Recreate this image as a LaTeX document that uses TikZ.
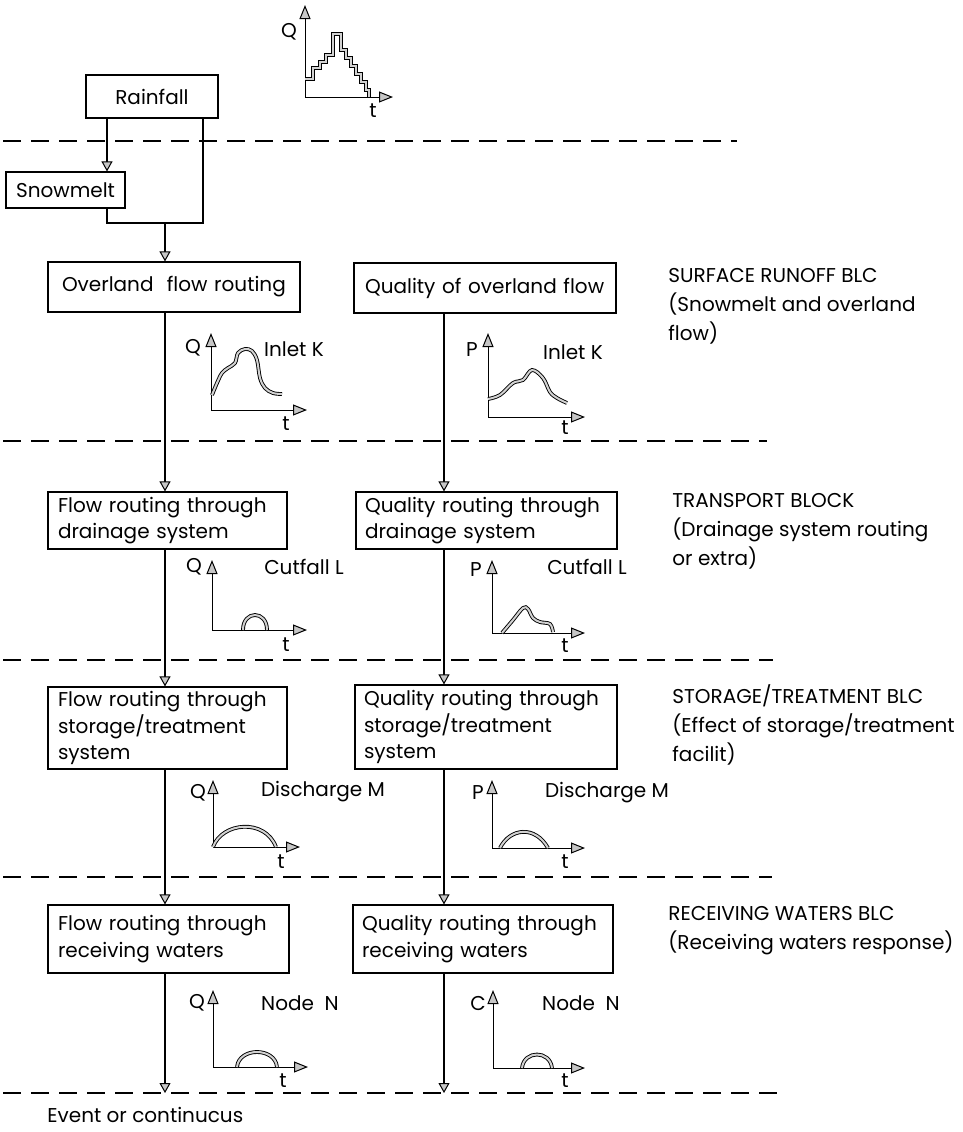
\documentclass[tikz,border=0pt]{standalone}
\usepackage{fontspec}
\setmainfont{Poppins}
\usetikzlibrary{arrows.meta}
\begin{document}
\begin{tikzpicture}[x=0.5pt,y=-0.5pt,
  font=\fontsize{10}{13.2}\selectfont,
  box/.style={draw, line width=0.6pt, inner ysep=0pt, align=left},
  cbox/.style={draw, line width=0.6pt, inner sep=0pt, align=center},
  flow/.style={line width=1.3pt},
  arr/.style={-{Triangle[length=5pt,width=5.5pt,fill=gray!45,line width=0.5pt]}},
  axis/.style={line width=0.5pt},
  axarr/.style={-{Triangle[length=7pt,width=5.5pt,fill=gray!45,line width=0.5pt]}},
  curve/.style={draw=black, double=gray!35, double distance=1pt, line width=0.45pt},
  sep/.style={dash pattern=on 9pt off 5pt, line width=0.8pt},
  lab/.style={inner sep=0pt},
  side/.style={inner sep=0pt, anchor=west, align=left, font=\fontsize{10}{14.5}\selectfont}
]
\useasboundingbox (0,0) rectangle (963,1132);

% separators
\draw[sep] (3,141) -- (737,141);
\draw[sep] (3,441) -- (767,441);
\draw[sep] (3,660) -- (773,660);
\draw[sep] (3,877) -- (772,877);
\draw[sep] (3,1093) -- (785,1093);

% boxes
\node[cbox, minimum width=66pt, minimum height=21.5pt] (rain) at (152,96.5) {Rainfall};
\node[cbox, minimum width=59.5pt, minimum height=18pt] (snow) at (65.5,190) {Snowmelt};
\node[box, inner xsep=7pt, text width=112pt, minimum height=25pt] (over) at (174,287) {\mbox{Overland\ \ flow routing}};
\node[box, inner xsep=5.5pt, text width=120pt, minimum height=25pt] (qover) at (485,288) {\mbox{Quality of overland flow}};
\node[box, inner xsep=5pt, text width=109.5pt, minimum height=28.5pt] (fdr) at (167.5,520.5) {\mbox{Flow routing through}\\\mbox{drainage system}};
\node[box, inner xsep=4.5pt, text width=121.5pt, minimum height=28.5pt] (qdr) at (486.5,520.5) {\mbox{Quality routing through}\\\mbox{drainage system}};
\node[box, inner xsep=5pt, text width=109.5pt, minimum height=41pt] (fst) at (167.5,728) {\mbox{Flow routing through}\\\mbox{storage/treatment}\\\mbox{system}};
\node[box, inner xsep=4.5pt, text width=122pt, minimum height=42pt] (qst) at (486,727) {\mbox{Quality routing through}\\\mbox{storage/treatment}\\\mbox{system}};
\node[box, inner xsep=5pt, text width=110.5pt, minimum height=34pt] (frw) at (168.5,939) {\mbox{Flow routing through}\\\mbox{receiving waters}};
\node[box, inner xsep=4.5pt, text width=121pt, minimum height=34pt] (qrw) at (483,939) {\mbox{Quality routing through}\\\mbox{receiving waters}};

% connector helpers
\coordinate (c1) at (107,0);
\coordinate (c2) at (203,0);
\coordinate (j) at (165,223);
\coordinate (L) at (165,0);
\coordinate (R) at (444,0);
\coordinate (endL) at (165,1093);
\coordinate (endR) at (444,1093);

\draw[flow,arr] (rain.south -| c1) -- (snow.north -| c1);
\draw[flow] (rain.south -| c2) |- (j);
\draw[flow] (snow.south -| c1) |- (j);
\draw[flow,arr] (j) -- (over.north -| j);

\draw[flow,arr] (over.south -| L) -- (fdr.north -| L);
\draw[flow,arr] (fdr.south -| L) -- (fst.north -| L);
\draw[flow,arr] (fst.south -| L) -- (frw.north -| L);
\draw[flow,arr] (frw.south -| L) -- (endL);

\draw[flow,arr] (qover.south -| R) -- (qdr.north -| R);
\draw[flow,arr] (qdr.south -| R) -- (qst.north -| R);
\draw[flow,arr] (qst.south -| R) -- (qrw.north -| R);
\draw[flow,arr] (qrw.south -| R) -- (endR);

% side labels
\node[side] (s1) at (668,306) {SURFACE RUNOFF BLC\\(Snowmelt and overland\\flow)};
\node[side] (s2) at (672,531.5) {TRANSPORT BLOCK\\(Drainage system routing\\or extra)};
\node[side] (s3) at (672,724.5) {STORAGE/TREATMENT BLC\\(Effect of storage/treatment\\facilit)};
\node[side] (s4) at (668,931) {RECEIVING WATERS BLC\\(Receiving waters response)};
\node[side] (ev) at (47,1115) {Event or continucus};

% top chart
\draw[axis,axarr] (305,97) -- (305,5);
\draw[axis,axarr] (305,97) -- (393,97);
\node[lab] (q0) at (289,32) {Q};
\node[lab] (t0) at (373,111) {t};
\draw[curve] (305,79) -- (313,79) -- (313,68) -- (320,68) -- (320,62) -- (326,62) -- (326,55) -- (333,55) -- (333,34) -- (341,34) -- (341,50) -- (346,50) -- (346,58) -- (351,58) -- (351,66) -- (356,66) -- (356,74) -- (361,74) -- (361,82) -- (366,82) -- (366,90) -- (369,90) -- (369,97);

% row 1 left
\draw[axis,axarr] (211,410) -- (211,333);
\draw[axis,axarr] (211,410) -- (307,410);
\node[lab] (q1) at (193,348) {Q};
\node[lab] (t1) at (286,424) {t};
\node[lab] (k1) at (294,349) {Inlet K};
\draw[curve] plot[smooth,tension=0.6] coordinates {(212,395) (217,383) (222,373) (228,368) (235,363) (238,353) (245,349) (252,351) (257,360) (260,378) (265,388) (273,393) (282,394)};

% row 1 right
\draw[axis,axarr] (488,417) -- (488,333);
\draw[axis,axarr] (488,417) -- (585,417);
\node[lab] (p1) at (472,350) {P};
\node[lab] (t2) at (565,428) {t};
\node[lab] (k2) at (573,352) {Inlet K};
\draw[curve] plot[smooth,tension=0.6] coordinates {(488,399) (500,395) (513,383) (523,380) (532,370) (543,378) (550,392) (557,398) (567,403)};

% row 2 left
\draw[axis,axarr] (212,630) -- (212,560);
\draw[axis,axarr] (212,630) -- (307,630);
\node[lab] (q2) at (194,567) {Q};
\node[lab] (t3) at (286,645) {t};
\node[lab] (o1) at (304,567) {Cutfall L};
\draw[curve] (243,630) .. controls (243,610) and (267,610) .. (267,630);

% row 2 right
\draw[axis,axarr] (492,633) -- (492,560);
\draw[axis,axarr] (492,633) -- (585,633);
\node[lab] (p2) at (476,570) {P};
\node[lab] (t4) at (565,646) {t};
\node[lab] (o2) at (587,567) {Cutfall L};
\draw[curve] plot[smooth,tension=0.6] coordinates {(502,633) (513,620) (523,608) (528,609) (533,618) (540,622) (550,624) (553,632)};

% row 3 left
\draw[axis,axarr] (213,847) -- (213,780);
\draw[axis,axarr] (213,847) -- (300,847);
\node[lab] (q3) at (198,793) {Q};
\node[lab] (t5) at (281,862) {t};
\node[lab] (d1) at (323,792) {Discharge M};
\draw[curve] (213,847) .. controls (222,822) and (265,818) .. (276,847);

% row 3 right
\draw[axis,axarr] (492,848) -- (492,780);
\draw[axis,axarr] (492,848) -- (585,848);
\node[lab] (p3) at (478,793) {P};
\node[lab] (t6) at (565,862) {t};
\node[lab] (d2) at (607,793) {Discharge M};
\draw[curve] (500,848) .. controls (510,828) and (535,825) .. (548,848);

% row 4 left
\draw[axis,axarr] (213,1067) -- (213,990);
\draw[axis,axarr] (213,1067) -- (308,1067);
\node[lab] (q4) at (197,1003) {Q};
\node[lab] (t7) at (283,1081) {t};
\node[lab] (n1) at (300,1003) {Node\ \ N};
\draw[curve] (237,1067) .. controls (239,1047) and (275,1047) .. (277,1067);

% row 4 right
\draw[axis,axarr] (493,1068) -- (493,990);
\draw[axis,axarr] (493,1068) -- (585,1068);
\node[lab] (c4) at (478,1003) {C};
\node[lab] (t8) at (565,1081) {t};
\node[lab] (n2) at (581,1003) {Node\ \ N};
\draw[curve] (522,1068) .. controls (524,1050) and (550,1050) .. (552,1068);
\end{tikzpicture}
\end{document}
